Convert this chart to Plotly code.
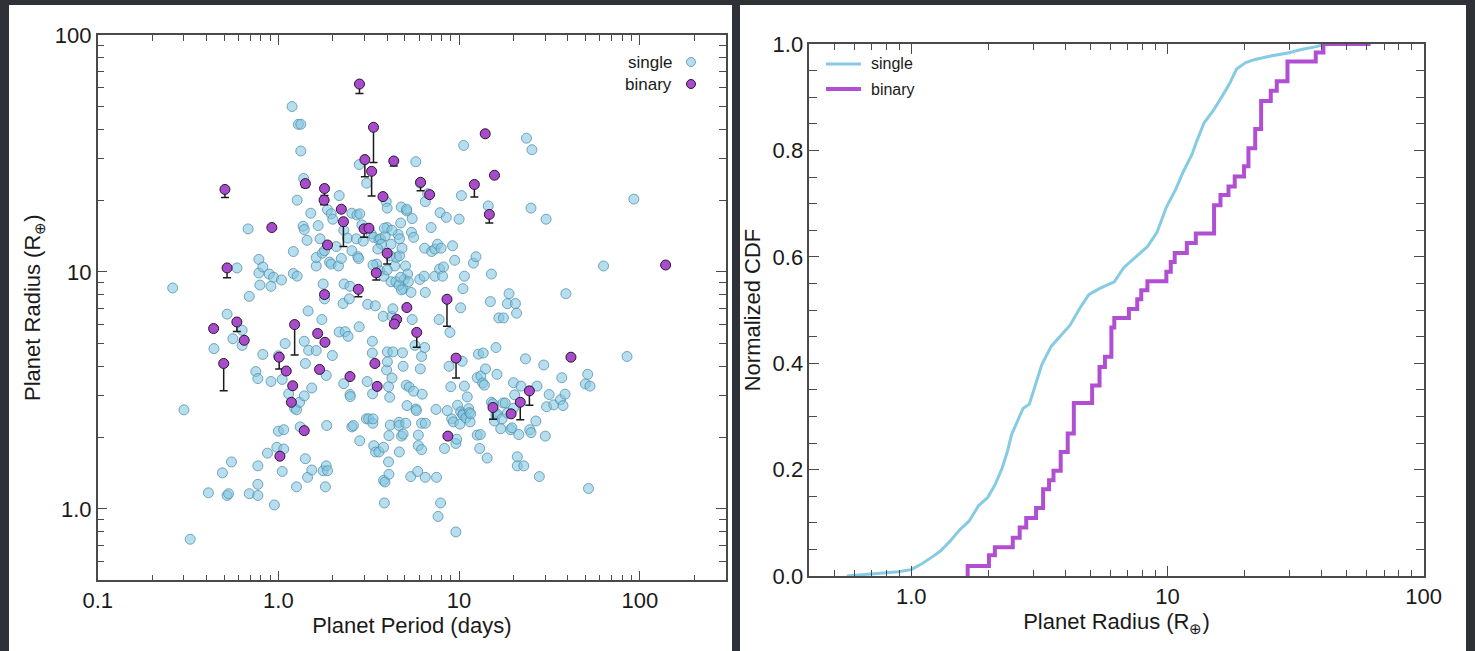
import plotly.graph_objects as go
import numpy as np

# ---------------- data: left panel (period vs radius) ----------------
single_period = [
    0.26, 0.30, 0.325, 0.41, 0.44, 0.49, 0.52, 0.53, 0.52, 0.55, 0.56, 0.59, 0.63, 0.63, 0.68, 0.69, 0.69,
    0.77, 0.77, 0.77, 0.78, 0.78, 0.75, 0.77, 0.79, 0.82, 0.82, 0.87, 0.89, 0.91, 0.91, 0.94, 0.95, 0.98,
    1.0, 1.0, 1.04, 1.05, 1.05, 1.07, 1.07, 1.09, 1.14, 1.19, 1.21, 1.21, 1.23, 1.26, 1.26, 1.27, 1.27,
    1.29, 1.33, 1.33, 1.31, 1.32, 1.37, 1.38, 1.39, 1.39, 1.39, 1.41, 1.41, 1.44, 1.45, 1.47, 1.46, 1.51,
    1.53, 1.53, 1.62, 1.62, 1.62, 1.66, 1.70, 1.75, 1.74, 1.77, 1.82, 1.77, 1.80, 1.85, 1.84, 1.84, 1.87,
    1.80, 1.87, 1.92, 1.96, 1.96, 1.99, 2.0, 2.09, 2.15, 2.17, 2.17, 2.23, 2.3, 2.31, 2.28, 2.30, 2.34,
    2.41, 2.43, 2.49, 2.47, 2.49, 2.5, 2.55, 2.6, 2.55, 2.55, 2.7, 2.72, 2.75, 2.78, 2.8, 2.8, 2.82, 2.82,
    2.9, 2.95, 3.08, 3.12, 3.07, 3.1, 3.16, 3.26, 3.32, 3.33, 3.34, 3.37, 3.31, 3.31, 3.44, 3.37, 3.45,
    3.5, 3.6, 3.67, 3.6, 3.64, 3.8, 3.82, 3.86, 3.84, 3.82, 3.89, 3.9, 3.95, 3.97, 4.0, 4.0, 4.01, 4.01,
    4.07, 4.07, 4.09, 4.09, 4.13, 4.16, 4.2, 4.2, 4.25, 4.25, 4.3, 4.3, 4.47, 4.5, 4.6, 4.65, 4.65, 4.67,
    4.68, 4.68, 4.75, 4.78, 4.8, 4.83, 4.86, 4.9, 4.9, 4.9, 4.97, 5.05, 5.07, 5.1, 5.13, 5.13, 5.15, 5.19,
    5.24, 5.3, 5.4, 5.42, 5.5, 5.45, 5.5, 5.6, 5.6, 5.77, 5.7, 5.76, 5.8, 5.95, 5.95, 5.9, 6.06, 6.1, 6.1,
    6.2, 6.2, 6.2, 6.25, 6.4, 6.45, 6.45, 6.5, 6.5, 6.5, 6.5, 6.7, 7.0, 7.05, 7.35, 7.35, 7.45, 7.5, 7.6,
    7.65, 7.75, 7.8, 7.9, 7.85, 7.95, 8.1, 8.3, 8.2, 8.5, 8.6, 8.8, 8.9, 9.0, 9.1, 9.2, 9.3, 9.45, 9.6,
    9.6, 9.7, 9.8, 10.0, 10.1, 10.2, 10.2, 10.3, 10.4, 10.5, 10.5, 10.5, 10.6, 10.7, 10.7, 10.9, 11.1,
    11.3, 11.4, 11.5, 11.6, 12.0, 12.4, 12.6, 12.6, 12.8, 13.0, 13.1, 13.2, 13.5, 13.6, 13.8, 14.0, 14.3,
    14.5, 14.9, 15.1, 15.1, 15.4, 15.7, 16.0, 16.0, 16.2, 16.2, 16.6, 17.0, 17.3, 17.5, 17.6, 18.0, 18.5,
    18.5, 18.9, 19.3, 19.6, 20.0, 20.0, 20.3, 20.5, 20.8, 21.0, 21.0, 21.4, 22.0, 23.3, 22.8, 23.6, 24.6,
    25.0, 25.0, 25.3, 26.6, 27.0, 27.8, 29.4, 30.3, 31.5, 30.0, 30.5, 33.4, 36.4, 37.0, 37.6, 38.6, 39.0,
    50.0, 51.5, 53.0, 52.0, 63.0, 85.0, 92.7,
    3.86, 4.25, 3.72, 4.15, 4.4, 4.65, 4.8, 3.55, 3.34, 4.0, 4.75,
]
single_radius = [
    8.56, 2.62, 0.745, 1.17, 4.75, 1.42, 1.14, 1.16, 6.64, 1.58, 5.23, 10.4, 5.68, 4.9, 15.2, 7.89, 1.16,
    1.52, 1.27, 1.14, 11.3, 9.9, 3.8, 3.55, 8.81, 4.49, 10.5, 1.72, 9.8, 3.45, 8.7, 9.5, 1.04, 1.82,
    2.13, 4.43, 9.25, 1.44, 3.52, 1.79, 2.16, 4.99, 3.06, 49.9, 9.85, 12.2, 2.66, 2.62, 1.24, 20.1, 9.6,
    42.0, 42.0, 32.4, 2.82, 2.22, 15.6, 24.8, 15.1, 5.1, 3.0, 4.11, 1.63, 13.6, 1.36, 4.67, 6.85, 17.7,
    3.24, 1.46, 4.66, 10.6, 11.5, 15.7, 13.8, 12.0, 6.3, 1.45, 1.24, 8.9, 12.3, 2.25, 3.66, 1.52, 1.45,
    7.7, 18.3, 11.0, 17.6, 10.8, 4.44, 16.7, 12.8, 10.6, 21.0, 5.58, 11.4, 15.0, 8.9, 7.36, 3.38, 5.6,
    13.9, 5.35, 8.7, 7.7, 3.04, 2.98, 2.22, 2.25, 12.3, 17.7, 13.8, 17.4, 11.6, 11.4, 5.87, 28.4, 1.94, 17.6,
    15.8, 13.5, 23.7, 7.3, 2.4, 3.45, 2.4, 14.5, 3.06, 2.3, 2.4, 14.0, 5.1, 4.55, 7.2, 1.85, 1.74,
    10.8, 13.7, 13.8, 1.74, 10.1, 6.5, 1.32, 1.06, 9.6, 1.82, 1.30, 14.2, 19.8, 3.86, 18.6, 15.4, 4.6, 4.18,
    3.28, 1.58, 2.04, 1.40, 2.96, 2.26, 9.1, 13.1, 6.5, 3.57, 7.0, 4.6, 9.1, 11.5, 14.4, 2.32, 2.25, 1.74,
    11.7, 13.8, 16.1, 18.8, 2.03, 12.6, 4.56, 4.0, 8.5, 2.07, 9.3, 10.6, 2.3, 3.33, 18.1, 18.4, 2.73, 9.8,
    9.1, 3.27, 1.37, 8.2, 6.3, 14.7, 16.8, 3.14, 14.0, 2.64, 4.9, 29.2, 2.6, 2.05, 1.85, 1.44, 9.3, 3.9, 23.7,
    4.4, 1.78, 2.3, 3.05, 9.6, 12.6, 4.8, 8.2, 19.8, 2.3, 1.36, 21.4, 15.4, 12.2, 12.5, 9.6, 2.63, 1.36, 13.1,
    0.93, 6.3, 10.3, 1.06, 17.8, 12.6, 9.6, 1.8, 10.5, 17.0, 2.6, 4.0, 5.56, 3.28, 2.4, 12.9, 2.33, 11.2, 1.89,
    0.80, 1.97, 2.74, 16.7, 2.28, 7.06, 2.57, 21.0, 4.2, 8.5, 2.52, 2.49, 34.2, 9.6, 3.3, 2.42, 2.97,
    2.65, 2.55, 2.33, 2.52, 10.9, 11.6, 3.58, 2.05, 4.5, 1.8, 2.06, 3.64, 3.4, 4.55, 3.33, 3.9, 1.64,
    19.0, 7.5, 9.8, 2.82, 2.78, 2.35, 4.8, 2.5, 2.52, 3.7, 6.4, 2.18, 2.4, 2.8, 6.4, 2.8, 7.35,
    2.54, 8.1, 2.16, 2.2, 3.41, 2.66, 3.03, 7.36, 6.7, 1.66, 1.52, 2.06, 3.3, 4.3, 1.52, 36.7, 2.16,
    2.1, 18.6, 32.8, 2.35, 3.3, 1.37, 4.05, 16.7, 3.04, 2.03, 2.7, 2.75, 2.89, 3.58, 2.73, 3.05, 8.1,
    3.37, 3.7, 3.3, 1.22, 10.6, 4.4, 20.3,
    15.3, 15.0, 13.1, 11.7, 10.6, 8.8, 8.4, 12.5, 10.7, 10.2, 9.5,
]

binary_period = [
    2.81, 3.36, 13.95, 3.01, 4.35, 3.28, 15.7, 0.506, 1.41, 1.80, 6.12, 12.15, 1.79, 3.79, 6.87, 2.23,
    14.7, 2.29, 0.92, 2.98, 3.17, 1.87, 4.0, 0.52, 3.48, 139.0, 2.77, 1.80, 8.57, 5.14, 4.51, 4.38,
    0.438, 0.589, 0.647, 1.23, 1.65, 5.83, 1.81, 1.01, 9.62, 41.6, 0.498, 1.105, 1.69, 3.42, 2.49, 1.20,
    3.52, 24.5, 1.18, 21.8, 15.4, 19.4, 1.39, 8.67, 1.02,
]
binary_radius = [
    62.1, 40.8, 38.3, 29.8, 29.4, 26.6, 25.6, 22.3, 23.6, 22.5, 23.9, 23.4, 20.1, 20.8, 21.2, 18.4,
    17.5, 16.3, 15.4, 15.2, 15.3, 13.0, 12.0, 10.4, 9.91, 10.7, 8.45, 8.03, 7.67, 7.08, 6.3, 6.03,
    5.77, 6.15, 5.15, 6.0, 5.5, 5.56, 5.05, 4.37, 4.33, 4.37, 4.11, 3.82, 3.88, 4.11, 3.62, 3.31,
    3.29, 3.15, 2.82, 2.82, 2.68, 2.52, 2.14, 2.03, 1.67,
]
# lower end of the error bar (None = no error bar)
binary_radius_low = [
    56.6, 29.0, None, 25.2, 28.0, 20.9, None, 20.6, 22.7, 21.0, 22.0, 20.7, 19.2, None, None, None,
    16.1, 12.8, None, 14.0, None, 12.6, 10.8, 9.46, 9.24, None, 7.87, None, 5.9, None, None, None,
    None, 5.61, None, 4.46, None, 4.81, None, 3.9, 3.57, None, 3.15, None, None, None, None, None,
    None, 2.74, None, 2.38, 2.39, None, None, None, None,
]

# ---------------- data: right panel (CDF of radius) ----------------
single_cdf_radius = [0.56, 0.65, 0.75, 0.89, 1.0, 1.1, 1.2, 1.3, 1.42, 1.54, 1.68, 1.83, 1.99, 2.12, 2.26,
                     2.37, 2.46, 2.62, 2.73, 2.89, 3.03, 3.23, 3.52, 3.9, 4.16, 4.53, 4.93, 5.47, 5.95, 6.2,
                     6.76, 7.5, 8.35, 9.1, 9.9, 10.8, 11.5, 12.5, 13.0, 13.9, 15.1, 16.4, 17.5, 18.6, 20.2,
                     22.0, 25.0, 29.5, 33.6, 38.1, 41.5, 62.0]
single_cdf_value = [0.0, 0.003, 0.005, 0.008, 0.012, 0.023, 0.035, 0.047, 0.066, 0.086, 0.103, 0.132, 0.148,
                    0.171, 0.202, 0.233, 0.265, 0.296, 0.315, 0.323, 0.354, 0.397, 0.432, 0.455, 0.471, 0.502,
                    0.529, 0.541, 0.55, 0.553, 0.58, 0.599, 0.619, 0.646, 0.693, 0.728, 0.759, 0.794, 0.817,
                    0.852, 0.875, 0.903, 0.926, 0.953, 0.965, 0.971, 0.977, 0.983, 0.99, 0.995, 1.0, 1.0]
binary_cdf_radius = [1.66, 1.66, 2.01, 2.12, 2.49, 2.65, 2.81, 3.07, 3.27, 3.45, 3.59, 3.83, 4.08, 4.31, 5.08,
                     5.43, 5.7, 6.04, 6.2, 7.07, 7.62, 7.9, 8.35, 9.9, 10.3, 10.67, 11.9, 12.9, 15.2, 16.1,
                     17.3, 18.3, 19.9, 20.7, 22.0, 23.2, 25.3, 26.7, 29.4, 37.9, 40.6, 62.0]
binary_cdf_value = [0.0, 0.019, 0.039, 0.054, 0.072, 0.091, 0.109, 0.128, 0.163, 0.18, 0.198, 0.233, 0.268,
                    0.325, 0.358, 0.393, 0.412, 0.467, 0.485, 0.502, 0.52, 0.537, 0.554, 0.572, 0.59, 0.607,
                    0.626, 0.644, 0.697, 0.716, 0.732, 0.751, 0.77, 0.804, 0.84, 0.893, 0.912, 0.93, 0.967,
                    0.984, 1.0, 1.0]

x_tick_vals = [0.1, 1, 10, 100]
x_tick_text = ["0.1", "1.0", "10", "100"]
y_tick_vals = [1, 10, 100]
y_tick_text = ["1.0", "10", "100"]
cdf_x_tick_vals = [1, 10, 100]
cdf_x_tick_text = ["1.0", "10", "100"]
cdf_y_tick_vals = [0, 0.2, 0.4, 0.6, 0.8, 1.0]
cdf_y_tick_text = ["0.0", "0.2", "0.4", "0.6", "0.8", "1.0"]

# ---------------- styling ----------------
W, H = 1475, 651
FONT = "Liberation Sans, Arial, Helvetica, sans-serif"
SINGLE_FILL = "rgba(130,198,225,0.58)"
SINGLE_EDGE = "rgba(80,140,165,0.75)"
BINARY_FILL = "#a94ccb"
BINARY_EDGE = "#2a1530"
SINGLE_LINE = "#86cbe4"
BINARY_LINE = "#b04fd2"
AXIS_COL = "#4a4a4a"
TXT = "#1a1a1a"

def px_x(p):
    return p / W

def px_y(p):
    return 1 - p / H

minor_log = [k * 10.0 ** e for e in range(-2, 3) for k in range(2, 10)]

fig = go.Figure()

err_minus = [r - lo if lo is not None else 0 for r, lo in zip(binary_radius, binary_radius_low)]

fig.add_trace(go.Scatter(
    x=single_period, y=single_radius, mode="markers", name="single",
    marker=dict(size=10, color=SINGLE_FILL, line=dict(color=SINGLE_EDGE, width=1)),
    xaxis="x", yaxis="y", showlegend=False))
fig.add_trace(go.Scatter(
    x=binary_period, y=binary_radius, mode="markers", name="binary",
    marker=dict(size=10, color=BINARY_FILL, line=dict(color=BINARY_EDGE, width=1)),
    error_y=dict(type="data", symmetric=False, array=[0] * len(binary_radius), arrayminus=err_minus,
                 color="#1a1a1a", thickness=1.5, width=4),
    xaxis="x", yaxis="y", showlegend=False))

fig.add_trace(go.Scatter(
    x=single_cdf_radius, y=single_cdf_value, mode="lines", name="single",
    line=dict(color=SINGLE_LINE, width=3), xaxis="x2", yaxis="y2", showlegend=False))
fig.add_trace(go.Scatter(
    x=binary_cdf_radius, y=binary_cdf_value, mode="lines", name="binary",
    line=dict(color=BINARY_LINE, width=4, shape="hv"), xaxis="x2", yaxis="y2", showlegend=False))

axis_common = dict(
    showline=True, linecolor=AXIS_COL, linewidth=1.5, mirror="allticks",
    ticks="inside", ticklen=10, tickwidth=1.3, tickcolor=AXIS_COL,
    showgrid=False, zeroline=False, automargin=False,
    tickfont=dict(family=FONT, size=22, color=TXT),
)
TITLE_FONT = dict(family=FONT, size=22, color=TXT)

fig.update_layout(
    width=W, height=H,
    margin=dict(l=0, r=0, t=0, b=0, autoexpand=False),
    paper_bgcolor="#2e3236",
    plot_bgcolor="white",
    font=dict(family=FONT, color=TXT),
    xaxis=dict(
        **axis_common, type="log", range=[-1, np.log10(300)],
        domain=[px_x(97.7), px_x(726)], anchor="y",
        tickvals=x_tick_vals, ticktext=x_tick_text,
        minor=dict(tickvals=[v for v in minor_log if 0.1 < v < 300], ticks="inside", ticklen=6,
                   tickwidth=1.2, tickcolor=AXIS_COL, showgrid=False),
        title=dict(text="Planet Period (days)", font=TITLE_FONT, standoff=3),
    ),
    yaxis=dict(
        **axis_common, type="log", range=[np.log10(0.5), 2],
        domain=[px_y(580.3), px_y(35)], anchor="x",
        tickvals=y_tick_vals, ticktext=y_tick_text,
        minor=dict(tickvals=[v for v in minor_log if 0.5 < v < 100], ticks="inside", ticklen=7,
                   tickwidth=1.2, tickcolor=AXIS_COL, showgrid=False),
        title=dict(text="Planet Radius (R<sub>⊕</sub>)", font=TITLE_FONT, standoff=8),
    ),
    xaxis2=dict(
        **axis_common, type="log", range=[np.log10(0.4), 2],
        domain=[px_x(809.3), px_x(1423.7)], anchor="y2",
        tickvals=cdf_x_tick_vals, ticktext=cdf_x_tick_text,
        minor=dict(tickvals=[v for v in minor_log if 0.4 < v < 100], ticks="inside", ticklen=6,
                   tickwidth=1.2, tickcolor=AXIS_COL, showgrid=False),
        title=dict(text="Planet Radius (R<sub>⊕</sub>)", font=TITLE_FONT, standoff=3),
    ),
    yaxis2=dict(
        **axis_common, range=[0, 1],
        domain=[px_y(576), px_y(44)], anchor="x2",
        tickvals=cdf_y_tick_vals, ticktext=cdf_y_tick_text,
        minor=dict(dtick=0.05, tick0=0, ticks="inside", ticklen=8,
                   tickwidth=1.2, tickcolor=AXIS_COL, showgrid=False),
        title=dict(text="Normalized CDF", font=TITLE_FONT, standoff=6),
    ),
)

# white panel backgrounds
fig.add_shape(type="rect", xref="paper", yref="paper", layer="below",
              x0=px_x(9), x1=px_x(732), y0=px_y(651), y1=px_y(5),
              fillcolor="white", line=dict(width=0))
fig.add_shape(type="rect", xref="paper", yref="paper", layer="below",
              x0=px_x(740), x1=px_x(1466), y0=px_y(651), y1=px_y(5),
              fillcolor="white", line=dict(width=0))

# left legend (text, then marker)
for label, ypx, fill, edge in [("single", 62, SINGLE_FILL, SINGLE_EDGE), ("binary", 84, BINARY_FILL, BINARY_EDGE)]:
    fig.add_annotation(xref="paper", yref="paper", x=px_x(674), y=px_y(ypx), text=label,
                       showarrow=False, xanchor="right", yanchor="middle",
                       font=dict(family=FONT, size=17, color=TXT))
    fig.add_shape(type="circle", xref="paper", yref="paper", xsizemode="pixel", ysizemode="pixel",
                  xanchor=px_x(691), yanchor=px_y(ypx), x0=-4.5, x1=4.5, y0=-4.5, y1=4.5,
                  fillcolor=fill, line=dict(color=edge, width=1))

# right legend (line, then text)
for label, ypx, col, wid in [("single", 64, SINGLE_LINE, 3), ("binary", 89, BINARY_LINE, 4)]:
    fig.add_shape(type="line", xref="paper", yref="paper",
                  x0=px_x(826), x1=px_x(861), y0=px_y(ypx), y1=px_y(ypx),
                  line=dict(color=col, width=wid))
    fig.add_annotation(xref="paper", yref="paper", x=px_x(869), y=px_y(ypx), text=label,
                       showarrow=False, xanchor="left", yanchor="middle",
                       font=dict(family=FONT, size=16, color=TXT))

fig.write_html("out.html")
